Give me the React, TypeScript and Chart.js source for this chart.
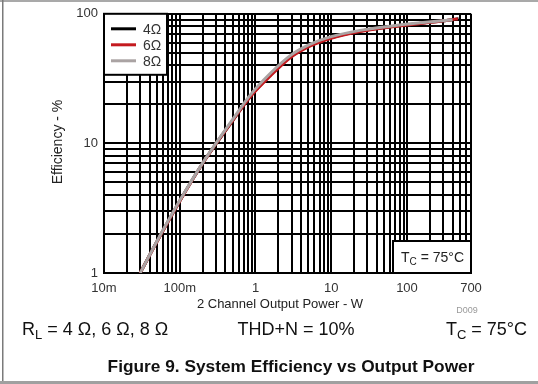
import React, { useEffect, useRef } from "react";
import { Chart, registerables } from "chart.js";

Chart.register(...registerables);

// ---- Data ----
const xTickValues = [0.01, 0.1, 1, 10, 100, 700];
const xTickLabels = ["10m", "100m", "1", "10", "100", "700"];
const yTickValues = [1, 10, 100];
const yTickLabels = ["1", "10", "100"];

const seriesLabels = ["4Ω", "6Ω", "8Ω"];
const seriesColors = ["#000000", "#c41a1f", "#aaa3a3"];

const power4 = [0.03, 0.05, 0.1, 0.2, 0.3, 0.5, 0.85, 1.56, 2.9, 5.3, 9.7, 24, 60, 150, 370, 480];
const eff4 = [1.0, 1.75, 3.6, 7.0, 9.9, 15.0, 23.0, 33.5, 46.5, 57.0, 65.0, 73.5, 79.5, 84.5, 89.5, 91.5];

const power6 = [0.03, 0.05, 0.1, 0.2, 0.3, 0.5, 0.85, 1.56, 2.9, 5.3, 9.7, 24, 60, 150, 370, 470];
const eff6 = [1.0, 1.74, 3.58, 7.0, 9.9, 15.0, 22.8, 33.0, 46.0, 56.5, 64.5, 73.0, 79.0, 84.2, 89.5, 91.7];

const power8 = [0.03, 0.05, 0.1, 0.2, 0.3, 0.5, 0.85, 1.56, 2.9, 5.3, 9.7, 24, 60, 150, 400];
const eff8 = [1.0, 1.76, 3.62, 7.05, 10.0, 15.3, 23.6, 34.6, 47.8, 58.3, 66.3, 74.5, 80.3, 85.2, 90.0];

const xMin = 0.01;
const xMax = 700;
const yMin = 1;
const yMax = 100;

function gridValues(min: number, max: number) {
  const out: number[] = [];
  const e0 = Math.floor(Math.log10(min));
  const e1 = Math.ceil(Math.log10(max));
  for (let e = e0; e <= e1; e++) {
    for (let m = 1; m <= 9; m++) {
      const v = Number((m * Math.pow(10, e)).toPrecision(6));
      if (v >= min * (1 - 1e-9) && v <= max * (1 + 1e-9)) out.push(v);
    }
  }
  return out;
}

function labelFor(values: number[], labels: string[], v: number) {
  const i = values.findIndex((t) => Math.abs(t - v) / t < 1e-6);
  return i >= 0 ? labels[i] : "";
}

const FONT = '"Liberation Sans", Arial, sans-serif';

const decor = {
  id: "decor",
  beforeDraw(chart: any) {
    const ctx = chart.ctx;
    ctx.save();
    ctx.fillStyle = "#ffffff";
    ctx.fillRect(0, 0, chart.width, chart.height);
    ctx.restore();
  },
  afterDatasetsDraw(chart: any) {
    const { ctx, chartArea } = chart;
    ctx.save();
    // legend box
    const lx = chartArea.left;
    const ly = chartArea.top;
    const lw = 63;
    const lh = 61;
    ctx.fillStyle = "#ffffff";
    ctx.fillRect(lx, ly, lw, lh);
    ctx.strokeStyle = "#000";
    ctx.lineWidth = 2;
    ctx.strokeRect(lx, ly, lw, lh);
    chart.data.datasets.forEach((ds: any, i: number) => {
      const y = ly + 15 + i * 16;
      ctx.strokeStyle = ds.borderColor;
      ctx.lineWidth = 3;
      ctx.beginPath();
      ctx.moveTo(lx + 7, y);
      ctx.lineTo(lx + 32, y);
      ctx.stroke();
      ctx.fillStyle = "#333";
      ctx.font = `14px ${FONT}`;
      ctx.textBaseline = "middle";
      ctx.textAlign = "left";
      ctx.fillText(ds.label, lx + 39, y + 1);
    });

    // Tc box
    const bw = 78;
    const bh = 32;
    const bx = chartArea.right - bw;
    const by = chartArea.bottom - bh;
    ctx.fillStyle = "#ffffff";
    ctx.fillRect(bx, by, bw, bh);
    ctx.strokeStyle = "#000";
    ctx.lineWidth = 2;
    ctx.strokeRect(bx, by, bw, bh);
    ctx.fillStyle = "#222";
    ctx.textBaseline = "alphabetic";
    ctx.textAlign = "left";
    ctx.font = `14px ${FONT}`;
    let tx = bx + 8;
    const tBase = by + 21;
    ctx.fillText("T", tx, tBase);
    tx += ctx.measureText("T").width;
    ctx.font = `10px ${FONT}`;
    ctx.fillText("C", tx, tBase + 3);
    tx += ctx.measureText("C").width;
    ctx.font = `14px ${FONT}`;
    ctx.fillText(" = 75°C", tx, tBase);
    ctx.restore();
  },
  afterDraw(chart: any) {
    const ctx = chart.ctx;
    ctx.save();
    // axis titles
    ctx.fillStyle = "#222";
    ctx.textAlign = "center";
    ctx.textBaseline = "middle";
    ctx.font = `13px ${FONT}`;
    ctx.fillText("2 Channel Output Power - W", 280, 304);
    ctx.save();
    ctx.translate(58, 142);
    ctx.rotate(-Math.PI / 2);
    ctx.font = `14px ${FONT}`;
    ctx.fillText("Efficiency - %", 0, 0);
    ctx.restore();

    ctx.fillStyle = "#9a9a9a";
    ctx.font = `9px ${FONT}`;
    ctx.fillText("D009", 467, 311);

    // footer row
    ctx.fillStyle = "#111";
    ctx.textBaseline = "alphabetic";
    ctx.textAlign = "left";
    const base = 335;
    let x = 22;
    ctx.font = `18px ${FONT}`;
    ctx.fillText("R", x, base);
    x += ctx.measureText("R").width;
    ctx.font = `13px ${FONT}`;
    ctx.fillText("L", x, base + 4);
    x += ctx.measureText("L").width;
    ctx.font = `18px ${FONT}`;
    ctx.fillText(" = 4 Ω, 6 Ω, 8 Ω", x, base);

    ctx.textAlign = "center";
    ctx.fillText("THD+N = 10%", 296, base);

    // Tc right
    ctx.textAlign = "left";
    ctx.font = `18px ${FONT}`;
    const rest = " = 75°C";
    const wRest = ctx.measureText(rest).width;
    const wT = ctx.measureText("T").width;
    ctx.font = `13px ${FONT}`;
    const wC = ctx.measureText("C").width;
    let rx = 527 - wRest - wC - wT;
    ctx.font = `18px ${FONT}`;
    ctx.fillText("T", rx, base);
    rx += wT;
    ctx.font = `13px ${FONT}`;
    ctx.fillText("C", rx, base + 4);
    rx += wC;
    ctx.font = `18px ${FONT}`;
    ctx.fillText(rest, rx, base);

    // caption
    ctx.textAlign = "center";
    ctx.font = `bold 17.3px ${FONT}`;
    ctx.fillText("Figure 9. System Efficiency vs Output Power", 291, 372);

    // frame
    ctx.fillStyle = "#a9a9a9";
    ctx.fillRect(0, 0, chart.width, 2);
    ctx.fillStyle = "#7a7a7a";
    ctx.fillRect(2, 0, 1.5, chart.height);
    ctx.fillStyle = "#a0a0a0";
    ctx.fillRect(0, 381, chart.width, 3);
    ctx.restore();
  },
};

export default function App() {
  const ref = useRef<HTMLCanvasElement | null>(null);

  useEffect(() => {
    document.body.style.margin = "0";
    const canvas = ref.current;
    if (!canvas) return;
    const mk = (px: number[], py: number[]) => px.map((x, i) => ({ x, y: py[i] }));
    const chart = new Chart(canvas, {
      type: "line",
      data: {
        datasets: [
          { label: seriesLabels[0], data: mk(power4, eff4), borderColor: seriesColors[0], order: 2 },
          { label: seriesLabels[1], data: mk(power6, eff6), borderColor: seriesColors[1], order: 1 },
          { label: seriesLabels[2], data: mk(power8, eff8), borderColor: seriesColors[2], order: 0 },
        ].map((d) => ({
          ...d,
          borderWidth: 3,
          pointRadius: 0,
          fill: false,
          cubicInterpolationMode: "monotone" as const,
        })),
      },
      options: {
        responsive: false,
        animation: false,
        devicePixelRatio: 1,
        layout: { padding: { left: 0, top: 12, right: 67, bottom: 0 } },
        plugins: {
          legend: { display: false },
          tooltip: { enabled: false },
          title: { display: false },
        },
        scales: {
          x: {
            type: "logarithmic",
            min: xMin,
            max: xMax,
            afterBuildTicks: (scale: any) => {
              scale.ticks = gridValues(xMin, xMax).map((v) => ({ value: v }));
            },
            afterFit: (scale: any) => {
              scale.height = 111;
            },
            grid: { color: "#000", lineWidth: 2, drawTicks: false },
            border: { display: true, color: "#000", width: 2 },
            ticks: {
              autoSkip: false,
              maxRotation: 0,
              padding: 8,
              color: "#333",
              font: { family: FONT, size: 13 },
              callback: (v: any) => labelFor(xTickValues, xTickLabels, Number(v)),
            },
          },
          y: {
            type: "logarithmic",
            min: yMin,
            max: yMax,
            afterBuildTicks: (scale: any) => {
              scale.ticks = gridValues(yMin, yMax).map((v) => ({ value: v }));
            },
            afterFit: (scale: any) => {
              scale.width = 104;
            },
            grid: { color: "#000", lineWidth: 2, drawTicks: false },
            border: { display: true, color: "#000", width: 2 },
            ticks: {
              autoSkip: false,
              padding: 6,
              color: "#333",
              font: { family: FONT, size: 13 },
              callback: (v: any) => labelFor(yTickValues, yTickLabels, Number(v)),
            },
          },
        },
      },
      plugins: [decor],
    });
    return () => chart.destroy();
  }, []);

  return (
    <div style={{ width: 538, height: 384, position: "relative" }}>
      <canvas ref={ref} width={538} height={384} style={{ display: "block" }} />
    </div>
  );
}
